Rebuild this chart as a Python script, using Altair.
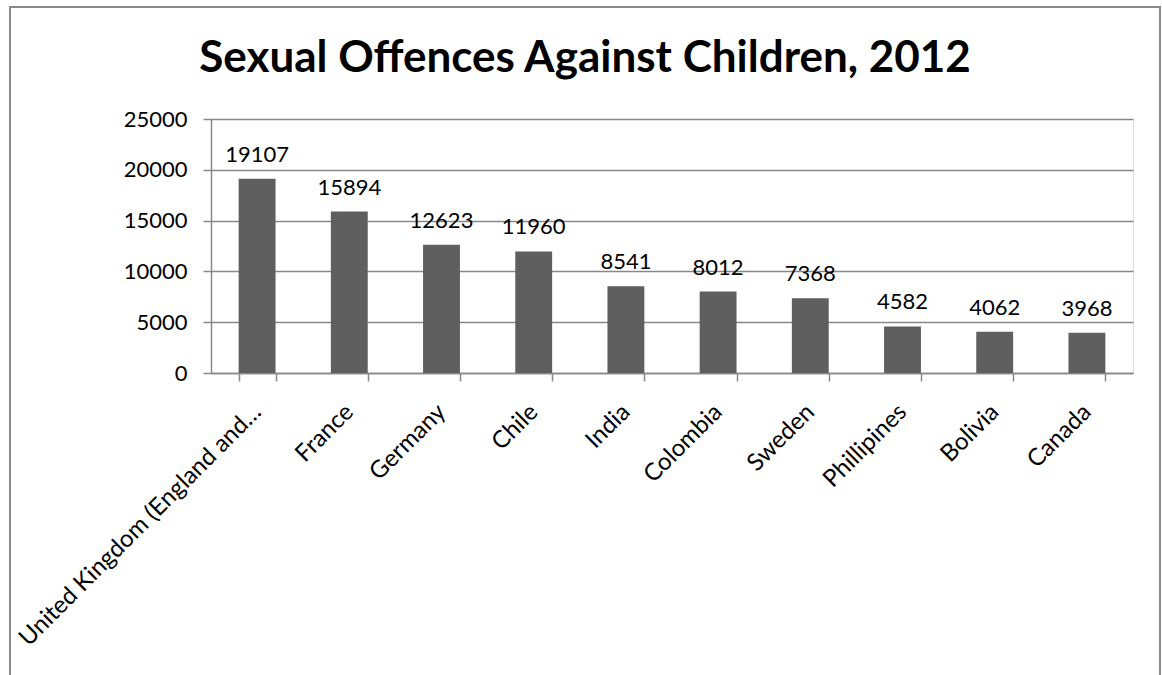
import altair as alt
import pandas as pd

title_text = "Sexual Offences Against Children, 2012"
countries = ["United Kingdom (England and\u2026", "France", "Germany", "Chile", "India",
             "Colombia", "Sweden", "Phillipines", "Bolivia", "Canada"]
values = [19107, 15894, 12623, 11960, 8541, 8012, 7368, 4582, 4062, 3968]

df = pd.DataFrame({"country": countries, "value": values})
FONT = "Lato"

x = alt.X("country:N", sort=None, title=None,
          scale=alt.Scale(paddingInner=0.6, paddingOuter=0.3),
          axis=alt.Axis(labelAngle=-45, labelAlign="right", labelBaseline="middle",
                        labelFont=FONT, labelFontSize=24, labelColor="#000",
                        labelLimit=500, labelPadding=27, tickBand="extent",
                        tickSize=8, tickColor="#888", tickWidth=1.5,
                        domainColor="#888", domainWidth=1.5, grid=False))
y = alt.Y("value:Q", title=None,
          scale=alt.Scale(domain=[0, 25000], nice=False),
          axis=alt.Axis(values=[0, 5000, 10000, 15000, 20000, 25000], format="d",
                        labelFont=FONT, labelFontSize=22, labelColor="#000",
                        labelPadding=16, tickSize=8, tickColor="#888", tickWidth=1.5,
                        domain=True, domainColor="#888", domainWidth=1.5,
                        grid=True, gridColor="#888", gridWidth=1.5))

bars = alt.Chart(df).mark_bar(color="#5f5f5f").encode(x=x, y=y)
labels = alt.Chart(df).mark_text(font=FONT, fontSize=22, baseline="bottom", dy=-12,
                                 color="#000").encode(
    x=alt.X("country:N", sort=None), y="value:Q", text=alt.Text("value:Q", format="d"))

frame = alt.Chart(df).mark_rect(fill=None, stroke="#888", strokeWidth=2).encode(
    x=alt.value(-201), x2=alt.value(949), y=alt.value(-112), y2=alt.value(570))

title = alt.Chart(pd.DataFrame({"t": [title_text]})).mark_text(
    font=FONT, fontSize=44, fontWeight="bold", color="#000",
    align="center", baseline="alphabetic").encode(
    text="t:N", x=alt.value(374), y=alt.value(-47))

chart = alt.layer(frame, bars, labels, title).properties(
    width=922, height=254,
    padding={"left": 211, "top": 119, "right": 29, "bottom": 302},
    autosize=alt.AutoSizeParams(type="none"),
).configure_view(stroke=None).configure(background="white")

chart.save("out.html", embed_options={"renderer": "svg", "actions": False})
